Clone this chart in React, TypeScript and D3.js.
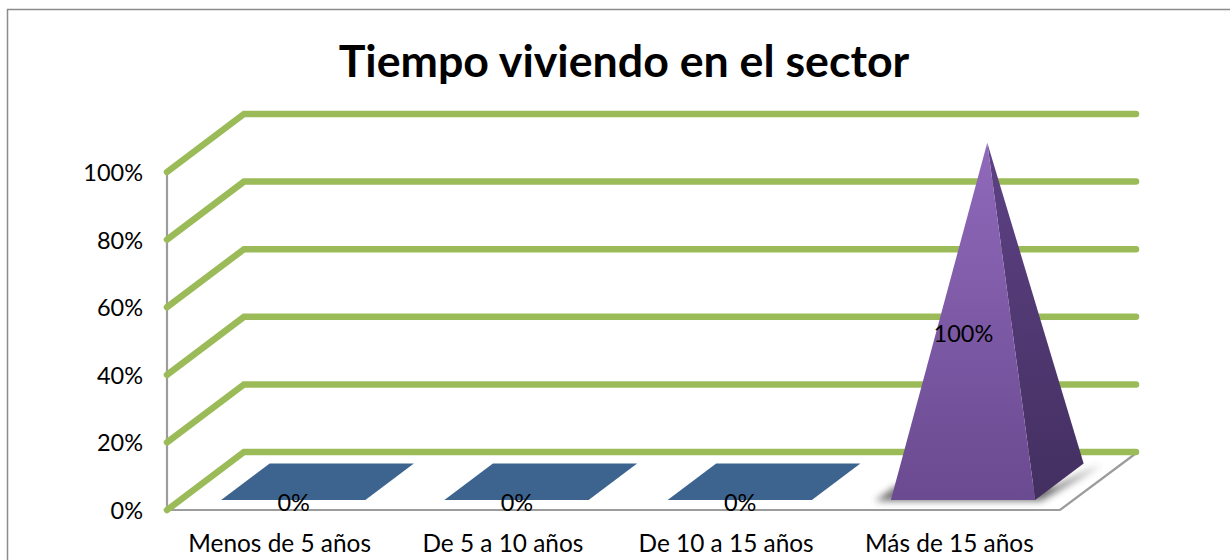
import React from "react";
import * as d3 from "d3";

const title = "Tiempo viviendo en el sector";
const categories = ["Menos de 5 años", "De 5 a 10 años", "De 10 a 15 años", "Más de 15 años"];
const values = [0, 0, 0, 100];
const yTicks = [0, 20, 40, 60, 80, 100];

const W = 1230, H = 560;
const FLOOR_LEFT = 167, FLOOR_RIGHT = 1060;
const Y0 = 510, Y100 = 172;
const DX = 77, DY = -58;
const FONT = "Lato, Carlito, 'Open Sans', sans-serif";

const x = d3.scaleBand<string>().domain(categories).range([FLOOR_LEFT, FLOOR_RIGHT]).paddingInner(0.354).paddingOuter(0.177);
const y = d3.scaleLinear().domain([0, 100]).range([Y0, Y100]);
const poly = (pts: [number, number][]) => (d3.line()(pts) || "") + "Z";

// Marks stand on the floor, slightly in from the front edge.
const INSET = 0.19, DEPTH = 0.63;

export default function App() {
  const bw = x.bandwidth();
  return (
    <svg width={W} height={H} viewBox={`0 0 ${W} ${H}`} style={{ position: "absolute", left: 0, top: 0, background: "#fff" }}>
      <defs>
        <linearGradient id="front" x1="0" y1="0" x2="0" y2="1">
          <stop offset="0" stopColor="#9069bb" />
          <stop offset="1" stopColor="#6a4a90" />
        </linearGradient>
        <linearGradient id="side" x1="0" y1="0" x2="0" y2="1">
          <stop offset="0" stopColor="#5e4285" />
          <stop offset="1" stopColor="#432f60" />
        </linearGradient>
        <filter id="blur" x="-20%" y="-50%" width="140%" height="200%">
          <feGaussianBlur stdDeviation="3.5" />
        </filter>
      </defs>

      <path d="M7.5 560V9.5H1230" fill="none" stroke="#8c8c8c" strokeWidth={1.5} />

      <text x={624} y={77} textAnchor="middle" fontFamily={FONT} fontWeight={700} fontSize={44.7} fill="#000">{title}</text>

      {/* floor and axis */}
      <path d={`M${FLOOR_LEFT} ${Y100}V${Y0}H${FLOOR_RIGHT}L${FLOOR_RIGHT + DX - 2} ${Y0 + DY + 2}`} fill="none" stroke="#9c9c9c" strokeWidth={2.2} />

      {/* gridlines */}
      {yTicks.map((t) => (
        <path key={t} d={d3.line()([[FLOOR_LEFT, y(t)], [FLOOR_LEFT + DX, y(t) + DY], [1136, y(t) + DY]]) || ""}
          fill="none" stroke="#9bbb59" strokeWidth={6.5} strokeLinecap="round" strokeLinejoin="miter" />
      ))}

      {/* y tick labels */}
      {yTicks.map((t) => (
        <text key={t} x={143} y={y(t) + 9} textAnchor="end" fontFamily={FONT} fontSize={23.5} fill="#000">{t}%</text>
      ))}

      {/* marks */}
      {categories.map((c, i) => {
        const l = x(c)!;
        const r = l + bw;
        const base = Y0 + INSET * DY + 1;
        const bx = DX * INSET, dx = DX * DEPTH, dy = DY * DEPTH;
        const x0 = l + bx, x1 = r + bx;
        const v = values[i];
        if (v === 0) {
          return <path key={c} d={poly([[x0, base], [x1, base], [x1 + dx, base + dy], [x0 + dx, base + dy]])} fill="#3d648f" />;
        }
        const apex: [number, number] = [(x0 + x1) / 2 + dx / 2, y(v) + (DY * (INSET + DEPTH / 2)) - 0];
        return (
          <g key={c}>
            <path d={poly([[x0 - 16, base + 1], [x1 + 6, base + 1], [x1 + dx + 18, base + dy + 1], [x1 + 20, base - 14], [x0 + 5, base - 14]])} fill="#444" opacity={0.75} filter="url(#blur)" />
            <path d={poly([apex, [x1, base], [x1 + dx, base + dy]])} fill="url(#side)" />
            <path d={poly([apex, [x0, base], [x1, base]])} fill="url(#front)" />
          </g>
        );
      })}

      {/* value labels */}
      {categories.map((c, i) => {
        const cx = x(c)! + bw / 2;
        const v = values[i];
        return (
          <text key={c} x={cx + 15} y={v === 0 ? 511 : 342} textAnchor="middle" fontFamily={FONT} fontSize={23.5} fill="#000">{v}%</text>
        );
      })}

      {/* category labels */}
      {categories.map((c) => (
        <text key={c} x={x(c)! + bw / 2 + 1} y={552} textAnchor="middle" fontFamily={FONT} fontSize={24.4} fill="#000">{c}</text>
      ))}
    </svg>
  );
}
